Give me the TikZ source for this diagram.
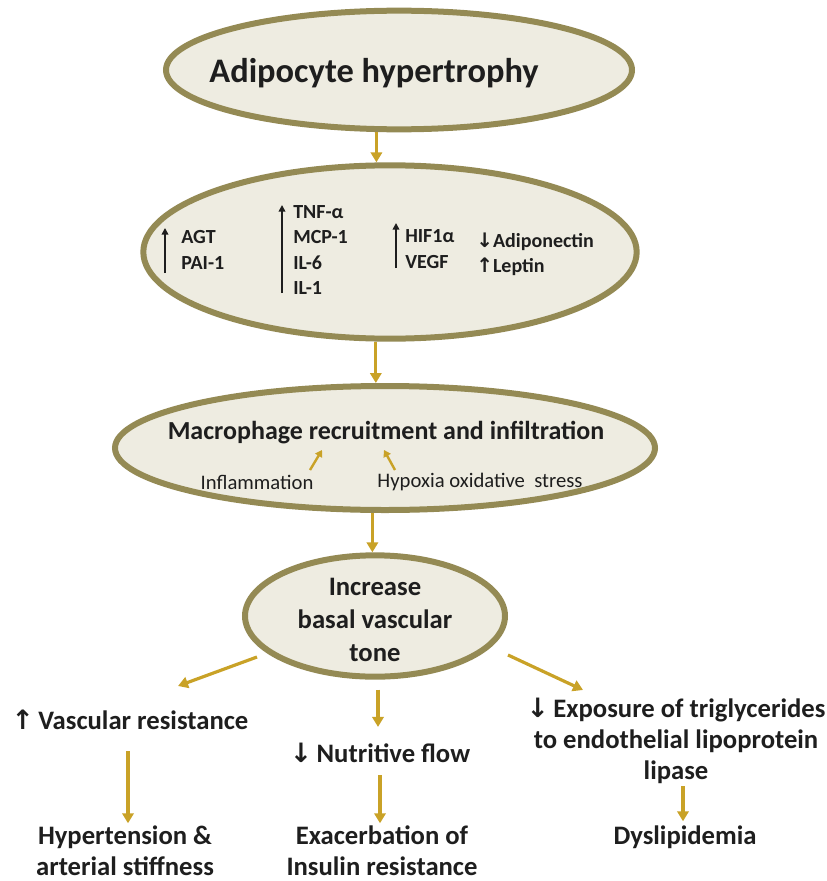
\documentclass[tikz,border=0pt]{standalone}
\usepackage{fontspec}
\setmainfont{Carlito}
\newfontfamily\arrowfont{DejaVu Sans}
\usetikzlibrary{shapes.geometric, arrows.meta}
\definecolor{rim}{HTML}{948A54}
\definecolor{fillc}{HTML}{EEECE1}
\definecolor{gold}{HTML}{C9A227}
\definecolor{ink}{HTML}{1E1E1E}
\begin{document}
\begin{tikzpicture}[x=0.75pt,y=-0.75pt,
  oval/.style={ellipse, draw=rim, fill=fillc, line width=4.5pt, inner sep=0pt},
  arr/.style={draw=gold, line width=2.4pt, -{Triangle[length=7.5pt,width=8.5pt]}},
  thinarr/.style={draw=gold, line width=1.8pt, -{Triangle[length=5pt,width=6pt]}},
  uparr/.style={draw=ink, line width=1.2pt, -{Triangle[length=5pt,width=5pt]}},
  txt/.style={text=ink, inner sep=0pt, align=center},
  big/.style={txt, font=\bfseries\fontsize{25.8}{30}\selectfont},
  mid/.style={txt, font=\bfseries\fontsize{19.5}{22}\selectfont},
  inner/.style={txt, align=left, font=\bfseries\fontsize{15}{19}\selectfont},
  small/.style={txt, font=\fontsize{15.5}{18}\selectfont},
  res/.style={txt, font=\bfseries\fontsize{20}{23}\selectfont},
]
\useasboundingbox (0,0) rectangle (827,881);

% ellipses
\node[oval, minimum width=349.5pt, minimum height=89pt] (e1) at (399,70) {};
\node[oval, minimum width=370pt, minimum height=130pt] (e2) at (390,252) {};
\node[oval, minimum width=405pt, minimum height=93pt] (e3) at (385,448) {};
\node[oval, minimum width=195pt, minimum height=91pt] (e4) at (375,616) {};

% ellipse 1 text
\node[big] (title) at (374,73) {Adipocyte hypertrophy};

% ellipse 2 text
\node[inner, anchor=west] (t1) at (181,250) {AGT\\PAI-1};
\node[inner, anchor=west] (t2) at (293,250) {TNF-α\\MCP-1\\IL-6\\IL-1};
\node[inner, anchor=west] (t3) at (405,249) {HIF1α\\VEGF};
\node[inner, anchor=west] (t4) at (476,254) {{\arrowfont\bfseries ↓}Adiponectin\\{\arrowfont\bfseries ↑}Leptin};
\coordinate (a1b) at (165,273); \coordinate (a1t) at (165,228);
\coordinate (a2b) at (282,293); \coordinate (a2t) at (282,205);
\coordinate (a3b) at (396,268); \coordinate (a3t) at (396,223);
\draw[uparr] (a1b) -- (a1t);
\draw[uparr] (a2b) -- (a2t);
\draw[uparr] (a3b) -- (a3t);

% ellipse 3 text
\node[mid] (mac) at (386,433) {Macrophage recruitment and infiltration};
\node[small] (infl) at (257,482) {Inflammation};
\node[small] (hyp) at (480,482) {Hypoxia oxidative\ \ stress};
\coordinate (i0) at (310,470); \coordinate (i1) at (322,450);
\coordinate (h0) at (395,470); \coordinate (h1) at (384,450);
\draw[thinarr] (i0) -- (i1);
\draw[thinarr] (h0) -- (h1);

% ellipse 4 text
\node[txt, font=\bfseries\fontsize{20}{25}\selectfont] (inc) at (375,620) {Increase\\basal vascular\\tone};

% main arrows
\draw[arr] (e1.250) -- (e1.250 |- e2.north);
\draw[arr] (e2.261.5) -- (e2.261.5 |- e3.north);
\draw[arr] (e3.259) -- (e3.259 |- e4.north);

% results
\node[res] (vr) at (130,720) {{\arrowfont ↑}\,Vascular resistance};
\node[res] (nf) at (380,753) {{\arrowfont\bfseries ↓}\,Nutritive flow};
\node[res] (ex) at (676,741) {{\arrowfont ↓}\,Exposure of triglycerides\\to endothelial lipoprotein\\lipase};
\node[res] (ht) at (125,851) {Hypertension \&\\arterial stiffness};
\node[res] (ei) at (382,851) {Exacerbation of\\Insulin resistance};
\node[res] (dy) at (685,837) {Dyslipidemia};

\coordinate (l0) at (257,657); \coordinate (l1) at (178,686);
\coordinate (r0) at (508,655); \coordinate (r1) at (583,690);
\draw[arr] (l0) -- (l1);
\draw[arr] (r0) -- (r1);
\draw[arr, shorten <=7.5pt, shorten >=12pt] (e4.south -| 378,0) -- (nf.north -| 378,0);
\draw[arr, shorten <=16pt, shorten >=2pt] (vr.south -| 128,0) -- (ht.north -| 128,0);
\draw[arr, shorten <=9pt, shorten >=2pt] (nf.south -| 380,0) -- (ei.north -| 380,0);
\draw[arr, shorten <=2pt, shorten >=3pt] (ex.south -| 683,0) -- (dy.north -| 683,0);
\end{tikzpicture}
\end{document}
